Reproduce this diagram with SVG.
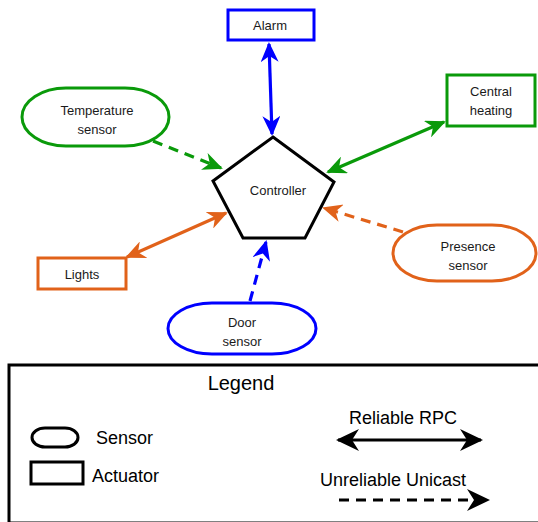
<svg xmlns="http://www.w3.org/2000/svg" width="538" height="522" viewBox="0 0 538 522">
<style>
text{font-family:"Liberation Sans",Arial,sans-serif;fill:#1a1a1a;text-anchor:middle}
.n{font-size:13px}
.lg{font-size:18px;fill:#000}
.box{fill:#fff;stroke-width:3}
.c{fill:none;stroke-width:3.2}
.d{stroke-dasharray:10 7}
.blue{stroke:#0000ff}
.green{stroke:#0a9a0a}
.orange{stroke:#e1621a}
.black{stroke:#000}
</style>
<defs>
<marker id="ab" viewBox="0 0 20 18" markerWidth="20" markerHeight="18" refX="18" refY="9" orient="auto-start-reverse" markerUnits="userSpaceOnUse"><path d="M0,0 L20,9 L0,18 L6,9 z" fill="#0000ff"/></marker>
<marker id="ag" viewBox="0 0 20 18" markerWidth="20" markerHeight="18" refX="18" refY="9" orient="auto-start-reverse" markerUnits="userSpaceOnUse"><path d="M0,0 L20,9 L0,18 L6,9 z" fill="#0a9a0a"/></marker>
<marker id="ao" viewBox="0 0 20 18" markerWidth="20" markerHeight="18" refX="18" refY="9" orient="auto-start-reverse" markerUnits="userSpaceOnUse"><path d="M0,0 L20,9 L0,18 L6,9 z" fill="#e1621a"/></marker>
<marker id="ak" viewBox="0 0 23 22" markerWidth="23" markerHeight="22" refX="21" refY="11" orient="auto-start-reverse" markerUnits="userSpaceOnUse"><path d="M0,0 L23,11 L0,22 L7,11 z" fill="#000"/></marker>
</defs>

<g id="connectors">
<line class="c blue" x1="269" y1="44" x2="272" y2="134" marker-start="url(#ab)" marker-end="url(#ab)"/>
<line class="c green" x1="444" y1="122" x2="328" y2="172" marker-start="url(#ag)" marker-end="url(#ag)"/>
<line class="c green d" x1="153" y1="141" x2="221" y2="168" marker-end="url(#ag)"/>
<line class="c orange" x1="127" y1="257" x2="226" y2="213" marker-start="url(#ao)" marker-end="url(#ao)"/>
<line class="c orange d" x1="403" y1="232" x2="324" y2="208" marker-end="url(#ao)"/>
<line class="c blue d" x1="250" y1="301" x2="266" y2="242" marker-end="url(#ab)"/>
</g>

<g id="controller">
<polygon class="box black" points="273,137 334,182 305,238 243,238 213,181" stroke-linejoin="miter"/>
<text class="n" x="278" y="195">Controller</text>
</g>

<g id="alarm">
<rect class="box blue" x="228" y="10" width="86" height="30"/>
<text class="n" x="270" y="30">Alarm</text>
</g>

<g id="temperature-sensor">
<rect class="box green" x="22" y="88" width="147" height="58" rx="44" ry="29"/>
<text class="n" x="97" y="115">Temperature</text>
<text class="n" x="97" y="134">sensor</text>
</g>

<g id="central-heating">
<rect class="box green" x="447" y="75" width="88" height="51"/>
<text class="n" x="491" y="96">Central</text>
<text class="n" x="491" y="115">heating</text>
</g>

<g id="lights">
<rect class="box orange" x="38" y="258" width="88" height="31"/>
<text class="n" x="82" y="279">Lights</text>
</g>

<g id="presence-sensor">
<rect class="box orange" x="393" y="225" width="143" height="56" rx="44" ry="28"/>
<text class="n" x="468" y="251">Presence</text>
<text class="n" x="468" y="270">sensor</text>
</g>

<g id="door-sensor">
<rect class="box blue" x="168" y="303" width="148" height="51" rx="44" ry="25.5"/>
<text class="n" x="242" y="327">Door</text>
<text class="n" x="242" y="346">sensor</text>
</g>

<g id="legend">
<rect x="9" y="365" width="540" height="158" fill="#fff" stroke="#000" stroke-width="3"/>
<text x="241" y="390" style="font-size:20px;fill:#000">Legend</text>
<rect x="32" y="428" width="46" height="19" rx="13" ry="9.5" fill="#fff" stroke="#000" stroke-width="3"/>
<text class="lg" x="96" y="444" style="text-anchor:start">Sensor</text>
<rect x="31" y="462" width="52" height="22" fill="#fff" stroke="#000" stroke-width="3"/>
<text class="lg" x="92" y="482" style="text-anchor:start">Actuator</text>
<text class="lg" x="403" y="424">Reliable RPC</text>
<line class="c black" x1="338" y1="440" x2="481" y2="440" marker-start="url(#ak)" marker-end="url(#ak)"/>
<text class="lg" x="393" y="486">Unreliable Unicast</text>
<line class="c black d" x1="339" y1="500" x2="488" y2="500" marker-end="url(#ak)"/>
</g>
</svg>
